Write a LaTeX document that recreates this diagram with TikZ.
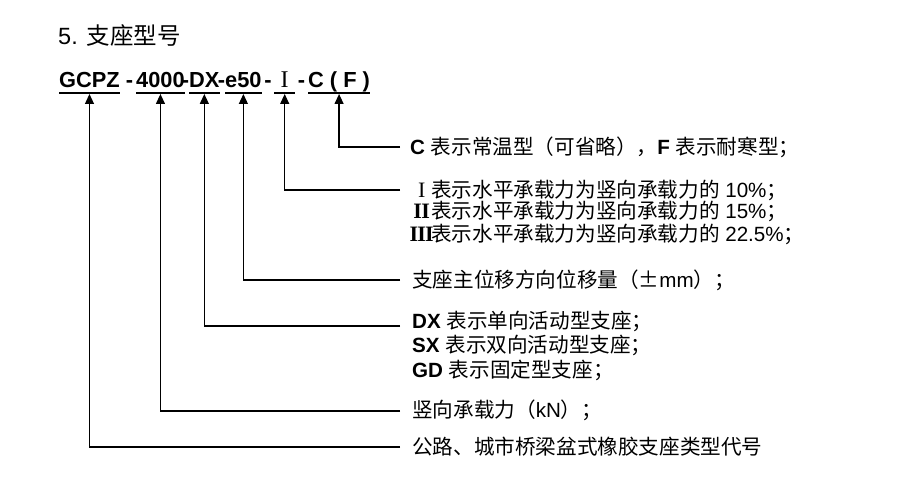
\documentclass[tikz,border=0pt]{standalone}
\usepackage{fontspec}
\setmainfont{Liberation Sans}
\newfontfamily\cjk{Noto Sans CJK SC}
\newfontfamily\rmn{Liberation Serif}
\usetikzlibrary{arrows.meta}
\newcommand\cj[1]{{\cjk #1}}
\newcommand\rnum[1]{{\rmn\fontsize{22}{22}\selectfont #1}}
\begin{document}
\begin{tikzpicture}[x=1pt,y=-1pt,
  txt/.style={anchor=west,inner sep=0pt,font=\fontsize{20.6}{21}\selectfont},
  tok/.style={anchor=base west,inner xsep=0pt,inner ysep=0pt,font=\fontsize{21.8}{22}\selectfont\bfseries},
  hyph/.style={anchor=base,inner sep=0pt,font=\fontsize{21.8}{22}\selectfont\bfseries},
  conn/.style={line width=1.2pt,-{Triangle[length=10pt,width=9pt]}},
  ul/.style={line width=1.6pt}]
\useasboundingbox (0,0) rectangle (900,492);
\node[anchor=west,inner sep=0pt,font=\fontsize{23.5}{24}\selectfont] (title) at (58,35) {5. \cj{支座型号}};
% code line
\node[tok] (tG) at (59,88) {GCPZ};
\node[hyph] (d1) at (129.5,88) {-};
\node[tok] (t4) at (136,88) {4000};
\node[hyph] (d2) at (185.5,88) {-};
\node[tok] (tD) at (189,88) {DX};
\node[hyph] (d3) at (221.5,88) {-};
\node[tok] (tE) at (225,88) {e50};
\node[hyph] (d4) at (268,88) {-};
\node[tok,minimum width=21pt] (tI) at (274,88) {\rmn\mdseries\fontsize{24}{24}\selectfont I};
\node[hyph] (d5) at (301.5,88) {-};
\node[tok] (tC) at (308,88) {C ( F )};
\coordinate (ulY) at (0,93);
\coordinate (tipY) at (0,94);
\foreach \t in {tG,t4,tD,tE,tI,tC}{\draw[ul] (\t.west |- ulY) -- (\t.east |- ulY);}
% descriptions
\node[txt] (nC) at (410,147) {\textbf{C} \cj{表示常温型（可省略），}\textbf{F} \cj{表示耐寒型；}};
\node[txt] (nI1) at (412,190) {\makebox[19pt][c]{\rnum{I}}\cj{表示水平承载力为竖向承载力的} 10\%\cj{；}};
\node[txt] (nI2) at (412,211) {\makebox[19pt][c]{\rnum{\bfseries I\kern-0.6pt I}}\cj{表示水平承载力为竖向承载力的} 15\%\cj{；}};
\node[txt] (nI3) at (412,234) {\makebox[19pt][c]{\rnum{\bfseries I\kern-0.8pt I\kern-0.8pt I}}\cj{表示水平承载力为竖向承载力的} 22.5\%\cj{；}};
\node[txt] (nE) at (412,280) {\cj{支座主位移方向位移量（±}mm\cj{）；}};
\node[txt] (nD1) at (412,321) {\textbf{DX} \cj{表示单向活动型支座；}};
\node[txt] (nD2) at (412,345) {\textbf{SX} \cj{表示双向活动型支座；}};
\node[txt] (nD3) at (412,370) {\textbf{GD} \cj{表示固定型支座；}};
\node[txt] (n4) at (412,410) {\cj{竖向承载力（}kN\cj{）；}};
\node[txt] (nG) at (412,447) {\cj{公路、城市桥梁盆式橡胶支座类型代号}};
% connectors
\coordinate (eC) at (400,147);
\coordinate (eI) at (400,190);
\coordinate (eE) at (400,280);
\coordinate (eD) at (400,326);
\coordinate (e4) at (400,411);
\coordinate (eG) at (400,447);
\draw[conn] (eC) -| (tC.south |- tipY);
\draw[conn] (eI) -| (tI.south |- tipY);
\draw[conn] (eE) -| (tE.south |- tipY);
\draw[conn] (eD) -| (tD.south |- tipY);
\draw[conn] (e4) -| (t4.south |- tipY);
\draw[conn] (eG) -| (tG.south |- tipY);
\end{tikzpicture}
\end{document}
